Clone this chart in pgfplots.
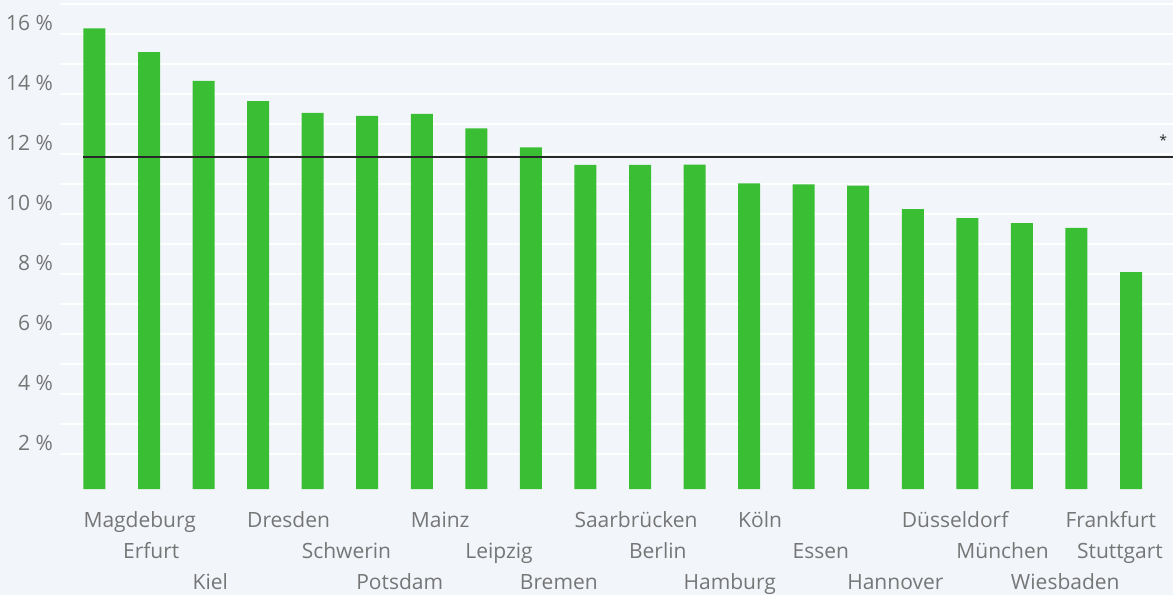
\documentclass[border=0pt]{standalone}
\usepackage{pgfplots}
\pgfplotsset{compat=1.18}
\usepackage{fontspec}
\setmainfont{Open Sans}
\definecolor{bg}{RGB}{242,245,250}
\definecolor{barg}{RGB}{58,190,52}
\definecolor{txt}{RGB}{118,118,118}
\definecolor{refl}{RGB}{40,40,40}
\begin{document}
\begin{tikzpicture}
\path[fill=bg, use as bounding box] (0,0) rectangle (586.5pt,297.5pt);
\begin{axis}[
  at={(30pt,53pt)}, anchor=south west,
  scale only axis, width=556.5pt, height=244.5pt,
  xmin=0.368, xmax=20.77, ymin=0.47, ymax=16.77,
  axis line style={draw=none},
  major tick length=0pt,
  ytick={2,4,...,16},
  yticklabels={2 \%,4 \%,6 \%,8 \%,10 \%,12 \%,14 \%,16 \%},
  yticklabel style={font=\fontsize{10.5pt}{12pt}\selectfont, text=txt},
  extra y ticks={1.64,2.64,3.64,4.64,5.64,6.64,7.64,8.64,9.64,10.64,11.64,12.64,13.64,14.64,15.64,16.64},
  extra y tick labels={},
  extra y tick style={grid=major, major grid style={white, line width=0.9pt}},
  xtick={1,...,20},
  xticklabels={
    {\strut Magdeburg},
    {\strut\\\strut\hspace*{-7.5pt}Erfurt},
    {\strut\\\strut\\\strut Kiel},
    {\strut Dresden},
    {\strut\\\strut Schwerin},
    {\strut\\\strut\\\strut Potsdam},
    {\strut Mainz},
    {\strut\\\strut Leipzig},
    {\strut\\\strut\\\strut Bremen},
    {\strut Saarbrücken},
    {\strut\\\strut Berlin},
    {\strut\\\strut\\\strut Hamburg},
    {\strut Köln},
    {\strut\\\strut Essen},
    {\strut\\\strut\\\strut Hannover},
    {\strut Düsseldorf},
    {\strut\\\strut München},
    {\strut\\\strut\\\strut Wiesbaden},
    {\strut Frankfurt},
    {\strut\\\strut\hspace*{-21.5pt}Stuttgart}},
  xticklabel style={anchor=north west, align=left, xshift=-9pt, yshift=-5pt,
    font=\fontsize{10.5pt}{15.5pt}\selectfont, text=txt},
]
\addplot[ybar, bar width=11pt, fill=barg, draw=none] coordinates {
  (1,15.82) (2,15.03) (3,14.07) (4,13.40) (5,13.01)
  (6,12.91) (7,12.97) (8,12.49) (9,11.86) (10,11.27)
  (11,11.27) (12,11.28) (13,10.66) (14,10.62) (15,10.58)
  (16,9.80) (17,9.50) (18,9.33) (19,9.17) (20,7.70)};
\addplot[refl, line width=1pt] coordinates {(0.79,11.52) (20.77,11.52)};
\node[text=refl, font=\fontsize{7pt}{7pt}\selectfont] at (axis cs:20.59,12.1) {*};
\end{axis}
\end{tikzpicture}
\end{document}
